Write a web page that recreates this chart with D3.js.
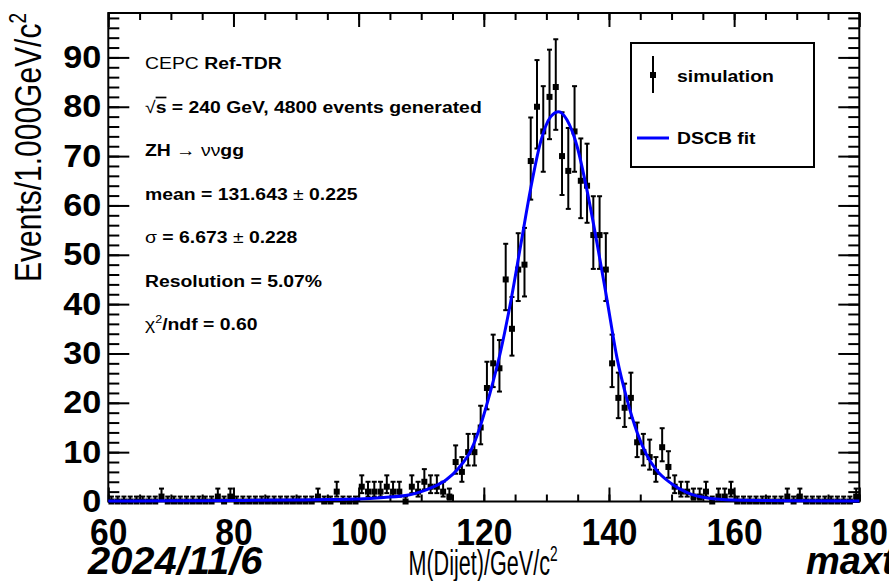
<!DOCTYPE html>
<html>
<head>
<meta charset="utf-8">
<script src="https://cdn.jsdelivr.net/npm/d3@7"></script>
<style>
  body { margin: 0; background: #fff; }
  svg { display: block; }
  text { font-family: "Liberation Sans", Arial, Helvetica, sans-serif; fill: #000; }
</style>
</head>
<body>
<div id="chart"></div>
<script>
// histogram: 1 GeV bins from 60 to 180
const binLow = 60;
const binWidth = 1;
const counts = [
  0, 0, 0, 0, 0, 0, 0, 0, 1, 0,
  0, 0, 0, 0, 0, 0, 0, 1, 0, 1,
  0, 0, 0, 0, 0, 0, 0, 0, 0, 0,
  0, 0, 0, 1, 0, 0, 2, 0, 0, 0,
  3, 2, 2, 2, 3, 2, 2, 0, 3, 2,
  4, 3, 3, 2, 1, 8, 6, 10, 10, 15,
  23, 28, 27, 45, 35, 47, 48, 69, 80, 75,
  82, 84, 70, 67, 75, 65, 64, 54, 54, 47,
  28, 21, 19, 21, 12, 10, 9, 6, 11, 7,
  3, 2, 2, 1, 1, 2, 0, 1, 1, 2,
  0, 0, 0, 0, 0, 0, 0, 0, 1, 0,
  1, 0, 0, 0, 0, 0, 0, 0, 0, 1
];

// DSCB fit curve
const fitMass = [60, 70, 80, 90, 95, 100, 104, 108, 110, 112, 114, 116, 118, 119.5, 121, 122.7,
  124.3, 125.9, 127.5, 129.1, 130.7, 132, 133.3, 134.9, 136.5, 138.1, 139.7, 141.3, 142.9,
  144.5, 146, 147.5, 150, 152.5, 155.7, 160, 170, 180];
const fitValue = [0.1, 0.15, 0.2, 0.3, 0.4, 0.5, 0.8, 1.3, 2.0, 3.0, 4.4, 6.8, 10.5, 15.5, 22, 30.5,
  40.5, 52, 63.5, 73, 78, 79, 77.3, 72, 63, 52.3, 40.8, 29, 20.6,
  14, 9.5, 6.5, 3.6, 1.8, 0.7, 0.3, 0.15, 0.1];

const xTicks = [60, 80, 100, 120, 140, 160, 180];
const yTicks = [0, 10, 20, 30, 40, 50, 60, 70, 80, 90];

const infoLines = [
  [["CEPC ", "normal"], ["Ref-TDR", "bold"]],
  [["\u221A", "normal"], ["s", "bold", "overline"], [" = 240 GeV, 4800 events generated", "bold"]],
  [["ZH", "bold"], [" \u2192  \u03BD\u03BD", "normal"], ["gg", "bold"]],
  [["mean = 131.643 ", "bold"], ["\u00B1", "normal"], [" 0.225", "bold"]],
  [["\u03C3", "normal"], [" = 6.673  ", "bold"], ["\u00B1", "normal"], [" 0.228", "bold"]],
  [["Resolution = 5.07%", "bold"]],
  [["\u03C7", "normal"], ["2", "normal", "sup"], ["/ndf = 0.60", "bold"]]
];

const width = 889;
const height = 581;
const frame = { left: 108.3, right: 859.3, top: 13, bottom: 501.5 };
const sx = 1.14; // the picture is a bit wider than the canvas it came from

const svg = d3.select('#chart')
  .append('svg')
  .attr('width', width)
  .attr('height', height);

const x = d3.scaleLinear().domain([60, 180]).range([frame.left, frame.right]);
const y = d3.scaleLinear().domain([0, 99]).range([frame.bottom, frame.top]);

function styleAxis(g) {
  g.select('.domain').remove();
  g.selectAll('line').attr('stroke', '#000').attr('stroke-width', 2);
  g.selectAll('text')
    .attr('font-size', 30)
    .attr('font-weight', 'bold')
    .attr('font-family', '"Liberation Sans", Arial, sans-serif')
    .attr('fill', '#000');
}

const minorX = d3.range(60, 181, 5);
const minorY = d3.range(0, 99, 2);

// bottom + top axes (ticks point inside)
svg.append('g').attr('transform', `translate(0,${frame.bottom})`)
  .call(d3.axisBottom(x).tickValues(minorX).tickSize(-7).tickFormat(''))
  .call(styleAxis);
svg.append('g').attr('transform', `translate(0,${frame.bottom})`)
  .call(d3.axisBottom(x).tickValues(xTicks).tickSize(-14))
  .call(styleAxis)
  .call(g => g.selectAll('text')
    .attr('y', 0).attr('dy', 0)
    .attr('transform', 'translate(0,43) scale(1.12,1.25)'));
svg.append('g').attr('transform', `translate(0,${frame.top})`)
  .call(d3.axisTop(x).tickValues(minorX).tickSize(-7).tickFormat(''))
  .call(styleAxis);
svg.append('g').attr('transform', `translate(0,${frame.top})`)
  .call(d3.axisTop(x).tickValues(xTicks).tickSize(-14).tickFormat(''))
  .call(styleAxis);

// left + right axes
svg.append('g').attr('transform', `translate(${frame.left},0)`)
  .call(d3.axisLeft(y).tickValues(minorY).tickSize(-11).tickFormat(''))
  .call(styleAxis);
svg.append('g').attr('transform', `translate(${frame.left},0)`)
  .call(d3.axisLeft(y).tickValues(yTicks).tickSize(-21))
  .call(styleAxis)
  .call(g => g.selectAll('text')
    .attr('x', 0)
    .attr('transform', `translate(-7,0) scale(${sx},1.05)`));
svg.append('g').attr('transform', `translate(${frame.right},0)`)
  .call(d3.axisRight(y).tickValues(minorY).tickSize(-11).tickFormat(''))
  .call(styleAxis);
svg.append('g').attr('transform', `translate(${frame.right},0)`)
  .call(d3.axisRight(y).tickValues(yTicks).tickSize(-21).tickFormat(''))
  .call(styleAxis);

// frame
svg.append('rect')
  .attr('x', frame.left).attr('y', frame.top)
  .attr('width', frame.right - frame.left).attr('height', frame.bottom - frame.top)
  .attr('fill', 'none').attr('stroke', '#000').attr('stroke-width', 2);

// data points with approximate Poisson intervals
const bins = counts.map((n, i) => ({
  m: binLow + (i + 0.5) * binWidth,
  n: n,
  lo: n + 0.5 - Math.sqrt(n + 0.25),
  hi: n + 0.5 + Math.sqrt(n + 0.25)
}));

const pts = svg.append('g').attr('stroke', '#000').attr('stroke-width', 2);
pts.selectAll('line.bar').data(bins).enter().append('line')
  .attr('class', 'bar')
  .attr('x1', d => x(d.m)).attr('x2', d => x(d.m))
  .attr('y1', d => y(d.lo)).attr('y2', d => y(d.hi));
pts.selectAll('line.capHi').data(bins).enter().append('line')
  .attr('class', 'capHi')
  .attr('x1', d => x(d.m) - 2.5).attr('x2', d => x(d.m) + 2.5)
  .attr('y1', d => y(d.hi)).attr('y2', d => y(d.hi));
pts.selectAll('line.capLo').data(bins).enter().append('line')
  .attr('class', 'capLo')
  .attr('x1', d => x(d.m) - 2.5).attr('x2', d => x(d.m) + 2.5)
  .attr('y1', d => y(d.lo)).attr('y2', d => y(d.lo));
svg.append('g').selectAll('rect').data(bins).enter().append('rect')
  .attr('x', d => x(d.m) - 3).attr('y', d => y(d.n) - 3)
  .attr('width', 6).attr('height', 6)
  .attr('fill', '#000');

// fit curve
const line = d3.line()
  .x((d, i) => x(fitMass[i]))
  .y(d => y(d))
  .curve(d3.curveMonotoneX);
svg.append('path')
  .datum(fitValue)
  .attr('d', line)
  .attr('fill', 'none')
  .attr('stroke', '#0000ff')
  .attr('stroke-width', 3);

// info text
const info = svg.append('g');
infoLines.forEach((parts, k) => {
  const t = info.append('text')
    .attr('transform', `translate(145,${69 + k * 43.5}) scale(${sx},1)`)
    .attr('font-size', 17);
  parts.forEach((p, j) => {
    const s = t.append('tspan').text(p[0]).attr('font-weight', p[1]);
    if (p[2] === 'overline') s.style('text-decoration', 'overline');
    if (p[2] === 'sup') s.attr('font-size', 11).attr('dy', -7);
    if (j > 0 && parts[j - 1][2] === 'sup') s.attr('dy', 7);
  });
});

// legend
const leg = svg.append('g');
leg.append('rect')
  .attr('x', 631).attr('y', 43).attr('width', 183).attr('height', 124)
  .attr('fill', '#fff').attr('stroke', '#000').attr('stroke-width', 2);
leg.append('line')
  .attr('x1', 653).attr('x2', 653).attr('y1', 56).attr('y2', 93)
  .attr('stroke', '#000').attr('stroke-width', 2);
leg.append('rect')
  .attr('x', 650).attr('y', 72).attr('width', 6).attr('height', 6).attr('fill', '#000');
leg.append('text').attr('transform', `translate(677,82) scale(${sx},1)`)
  .attr('font-size', 17).attr('font-weight', 'bold').text('simulation');
leg.append('line')
  .attr('x1', 637).attr('x2', 669).attr('y1', 138).attr('y2', 138)
  .attr('stroke', '#0000ff').attr('stroke-width', 3);
leg.append('text').attr('transform', `translate(677,144) scale(${sx},1)`)
  .attr('font-size', 17).attr('font-weight', 'bold').text('DSCB fit');

// axis titles
const yTitle = svg.append('text')
  .attr('transform', `translate(41,${frame.top}) scale(1.25,1) rotate(-90)`)
  .attr('text-anchor', 'end')
  .attr('font-size', 30);
yTitle.append('tspan').text('Events/1.000GeV/c');
yTitle.append('tspan').text('2').attr('font-size', 19).attr('dy', -12);

const xTitle = svg.append('text')
  .attr('transform', 'translate(483,575) scale(0.72,1.2)')
  .attr('text-anchor', 'middle')
  .attr('font-size', 30);
xTitle.append('tspan').text('M(Dijet)/GeV/c');
xTitle.append('tspan').text('2').attr('font-size', 19).attr('dy', -12);

svg.append('text')
  .attr('transform', 'translate(88,574) scale(1.05,1)')
  .attr('font-size', 38).attr('font-weight', 'bold').attr('font-style', 'italic')
  .text('2024/11/6');
svg.append('text')
  .attr('transform', 'translate(806,574)')
  .attr('font-size', 38).attr('font-weight', 'bold').attr('font-style', 'italic')
  .text('maxt');
</script>
</body>
</html>
